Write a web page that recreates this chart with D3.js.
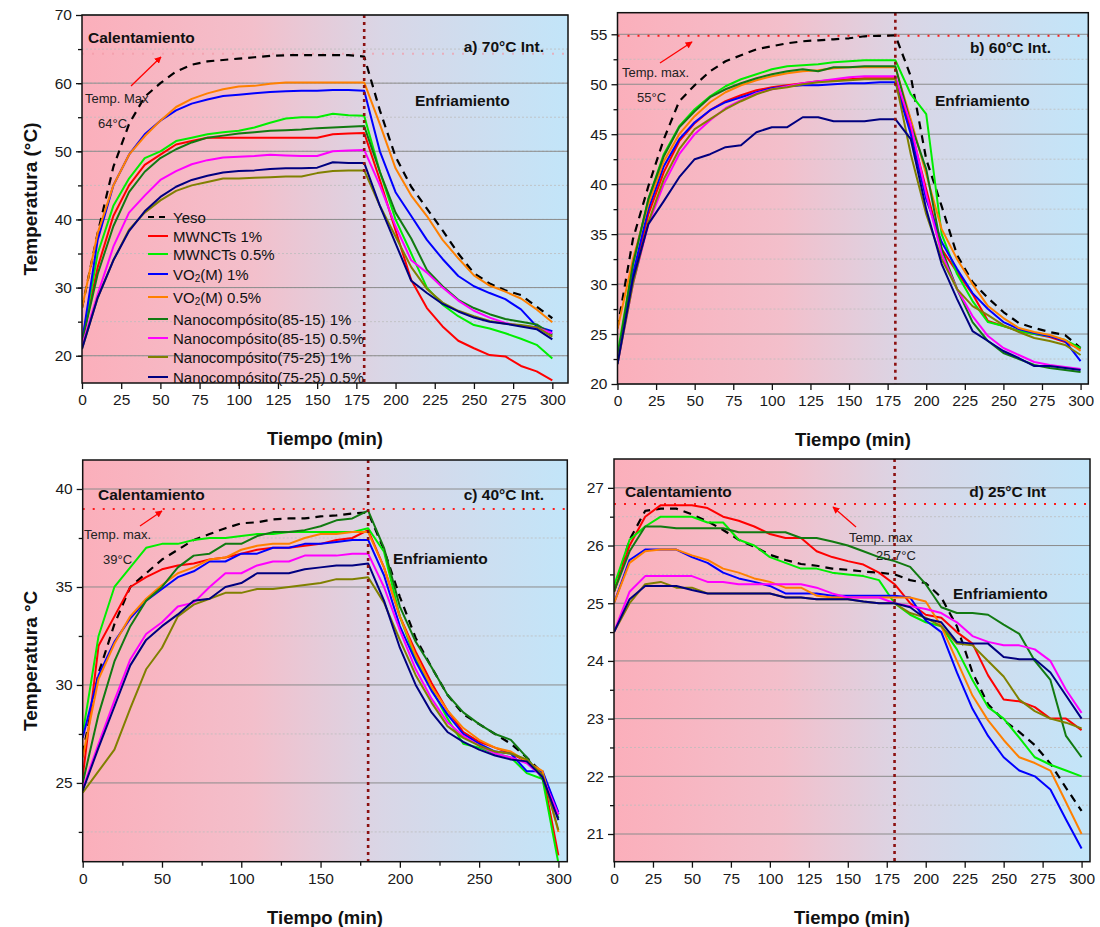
<!DOCTYPE html>
<html>
<head>
<meta charset="utf-8">
<script src="https://cdn.jsdelivr.net/npm/d3@7"></script>
<style>
  body { margin: 0; background: #fff; }
  svg { display: block; font-family: "Liberation Sans", Arial, Helvetica, sans-serif; }
</style>
</head>
<body>
<svg id="chart" width="1100" height="927"></svg>
<script>
// Sampling times (min)
const tiempo = [0,10,20,30,40,50,60,70,80,90,100,110,120,130,140,150,160,170,180,190,200,210,220,230,240,250,260,270,280,290,300];

const nombres = ["Yeso","MWNCTs 1%","MWNCTs 0.5%","VO2(M) 1%","VO2(M) 0.5%",
  "Nanocompósito(85-15) 1%","Nanocompósito(85-15) 0.5%","Nanocompósito(75-25) 1%","Nanocompósito(75-25) 0.5%"];
const colores = ["#000000","#ff0000","#00ee00","#0000ff","#ff8000","#117a11","#ff00ff","#808000","#000080"];

// a) 70 °C
const yeso70      = [27,38,47.7,54,58,60,61.7,62.7,63.2,63.4,63.6,63.8,64,64.1,64.1,64.1,64.1,64.1,63.9,56,49.2,44.8,41.6,38.4,35,32.1,30.6,29.6,28.9,27.2,25.5];
const mwncts1_70  = [22,33,40.5,45,48,49.5,51,51.5,52,52,52,52,52,52,52,52,52.5,52.6,52.7,45.8,38.4,31.1,27,24.3,22.2,21.1,20.1,19.9,18.5,17.7,16.4];
const mwncts05_70 = [22,35,42,46,49,50,51.5,52,52.5,52.8,53,53.5,54.2,54.8,55,55,55.5,55.3,55.2,47,40,35,30,27.5,25.8,24.5,24,23.3,22.5,21.6,19.6];
const vo1_70      = [22,37,45,49.5,52.5,54.5,56,57,57.6,58.1,58.3,58.5,58.7,58.8,58.9,58.9,59,59,58.9,50,44,40.5,37,34.2,31.7,30.2,29.2,28.3,26.8,24.3,23.6];
const vo05_70     = [27,38,45,49.5,52.2,54.5,56.5,57.7,58.5,59.1,59.5,59.6,59.9,60.1,60.1,60.1,60.1,60.1,60.1,54,47.5,43.5,40.5,37,34.3,31.8,30.3,29.4,28.4,26.8,24.9];
const n8515_1_70  = [22,32,39,44,47,49,50.3,51.3,52,52.3,52.6,52.8,53,53.1,53.2,53.4,53.5,53.6,53.7,47,41,37.2,32.6,30.2,28.2,27,26.1,25.4,25,24.6,23.1];
const n8515_05_70 = [21.5,29,36,41,43.5,45.8,47.1,48.1,48.7,49.1,49.2,49.3,49.5,49.4,49.3,49.3,50,50.1,50.2,45,39,34,32.2,30,28.1,26.6,25.6,24.8,24.4,24.1,23.3];
const n7525_1_70  = [21,28.5,34,38.5,41,42.8,44.2,45,45.5,46,46,46.1,46.2,46.3,46.3,46.8,47.1,47.2,47.2,42,37.5,33,29.8,27.8,26.6,25.8,25.1,24.7,24.5,24.2,22.8];
const n7525_05_70 = [21,28.5,34,38.3,41.2,43.3,44.8,45.8,46.4,46.9,47.1,47.2,47.4,47.5,47.5,47.6,48.4,48.3,48.3,42,36.5,31,29.2,27.6,26.5,25.6,25,24.7,24.3,23.9,22.4];

// b) 60 °C
const yeso60      = [25.6,34.5,39.8,44.5,48.3,49.9,51.3,52.3,52.9,53.5,53.8,54.1,54.3,54.4,54.5,54.6,54.8,54.85,54.9,50.8,42.5,37.8,32.9,30.2,28.6,27.2,26.1,25.6,25.2,24.9,23.6];
const mwncts1_60  = [22.5,30.5,37,41.2,44.3,46.1,47.4,48.3,48.9,49.4,49.7,49.9,50.1,50.3,50.4,50.5,50.6,50.6,50.6,45.5,39.5,33.5,31.2,29,26.3,25.8,25.3,25,24.7,24.2,23.5];
const mwncts05_60 = [23,32,38.5,43,45.8,47.5,48.8,49.8,50.5,51,51.5,51.8,51.9,52,52.2,52.3,52.4,52.4,52.4,49,47,35,31,28.3,26.2,25.8,25.3,25,24.8,24.4,23.6];
const vo1_60      = [22.5,31,37.5,41.8,44.5,46.2,47.4,48.2,48.7,49.2,49.6,49.8,49.9,49.9,50,50.1,50.1,50.2,50.2,45,38.5,34.2,31.5,29.1,27.5,26.2,25.5,25.1,24.8,24.3,22.3];
const vo05_60     = [25.5,32.5,38,42.3,45,46.8,48.2,49.2,49.9,50.4,50.8,51.1,51.3,51.4,51.6,51.7,51.7,51.7,51.7,46.5,41,35.5,32.5,30,27.8,26.6,25.6,25.2,24.9,24.4,23.3];
const n8515_1_60  = [22.5,32,38.5,42.8,45.7,47.3,48.7,49.5,50.1,50.6,51,51.3,51.5,51.3,51.7,51.7,51.8,51.8,51.8,46,41.5,33.5,29.5,26.2,24.3,23.1,22.5,21.9,21.6,21.4,21.2];
const n8515_05_60 = [22,30,36,40,43,45,46.4,47.6,48.4,49.1,49.5,49.8,50.1,50.3,50.5,50.7,50.8,50.8,50.8,46,39,33,29.5,26.8,24.8,23.6,22.9,22.2,21.9,21.7,21.5];
const n7525_1_60  = [22,30,36.2,40.5,43.5,45.5,46.5,47.5,48.3,49,49.5,49.7,50,50.2,50.3,50.4,50.5,50.5,50.5,43,37,32.5,29.5,27.8,26.9,25.9,25.2,24.6,24.3,23.9,22.9];
const n7525_05_60 = [22,30.5,36,38.3,40.7,42.5,43,43.7,43.9,45.2,45.7,45.7,46.7,46.7,46.3,46.3,46.3,46.5,46.5,44.5,37.5,32,28.5,25.3,24.3,23.3,22.6,21.8,21.8,21.6,21.4];

// c) 40 °C
const yeso40      = [26.5,30.6,33.1,35,35.7,36.4,36.9,37.4,37.7,38,38.25,38.3,38.45,38.5,38.5,38.6,38.65,38.75,38.8,36.9,34.5,32.4,30.9,29.5,28.5,28,27.5,27,26.3,25.5,23.4];
const mwncts1_40  = [25.3,32,33.5,35,35.5,35.9,36.1,36.2,36.4,36.5,36.7,36.9,37,37,37.1,37.2,37.4,37.5,37.9,36,33.5,31.7,30.1,28.7,27.6,27.1,26.8,26.5,26.1,25.5,21.3];
const mwncts05_40 = [27.5,32.5,35,36,37,37.2,37.2,37.4,37.5,37.5,37.6,37.7,37.7,37.8,37.8,37.8,37.8,37.8,38,36.8,33.5,31.3,29.8,28.3,27,26.8,26.5,26.3,25.5,25.2,20.9];
const vo1_40      = [27.3,30.5,32.2,33.4,34.3,34.9,35.5,35.8,36.3,36.3,36.7,36.7,37,37,37.2,37.2,37.3,37.4,37.4,35.6,33,31.2,29.7,28.5,27.5,27,26.6,26.5,25.6,25.6,23.5];
const vo05_40     = [26.3,30.3,32.1,33.5,34.4,35.1,35.7,36,36.4,36.5,36.9,37.1,37.2,37.2,37.5,37.7,37.7,37.8,37.8,36,33.5,31.5,29.9,28.7,27.8,27.2,26.8,26.6,26.1,25.6,22.5];
const n8515_1_40  = [25,28.5,31.2,33,34.3,35,36,36.6,36.7,37.2,37.2,37.6,37.8,37.8,37.9,38.1,38.4,38.5,38.9,37,34,32.2,30.9,29.5,28.6,28,27.5,27.2,26.3,25.2,23.2];
const n8515_05_40 = [24.7,27,29.2,31.3,32.6,33.2,34,34.2,35,35.7,35.7,36.1,36.3,36.3,36.6,36.6,36.6,36.7,36.7,35,32.8,30.8,29.3,28.1,27.4,26.9,26.5,26.3,26,25.3,23.4];
const n7525_1_40  = [24.5,25.6,26.7,28.8,30.8,31.9,33.5,34.1,34.4,34.7,34.7,34.9,34.9,35,35.1,35.2,35.4,35.4,35.5,34.2,32.3,30.5,29.1,27.9,27.3,26.9,26.6,26.5,26.2,25.4,22.6];
const n7525_05_40 = [24.6,26.8,28.9,31,32.3,33,33.6,34.3,34.4,35,35.2,35.7,35.7,35.7,35.9,36,36.1,36.1,36.2,34.3,31.9,30,28.6,27.6,27.1,26.7,26.4,26.2,26.1,25.3,23.1];

// d) 25 °C
const yeso25      = [25.2,26.1,26.6,26.64,26.64,26.54,26.42,26.27,26.1,25.98,25.84,25.75,25.68,25.65,25.6,25.58,25.55,25.53,25.5,25.4,25.35,25.1,24.6,23.8,23.25,22.97,22.77,22.54,22.22,21.8,21.4];
const mwncts1_25  = [25.2,26,26.5,26.7,26.7,26.7,26.65,26.5,26.43,26.33,26.2,26.13,26.13,25.9,25.8,25.73,25.67,25.53,25.33,25,24.8,24.75,24.5,24.3,23.75,23.33,23.3,23.2,23,23,22.8];
const mwncts05_25 = [25.3,26.1,26.33,26.5,26.5,26.5,26.4,26.4,26.1,26,25.8,25.7,25.6,25.6,25.53,25.5,25.47,25.4,25,24.8,24.67,24.6,24.2,23.67,23.2,23,22.67,22.33,22.2,22.1,22];
const vo1_25      = [25,25.75,25.93,25.93,25.93,25.8,25.7,25.53,25.43,25.37,25.3,25.17,25.17,25.17,25.13,25.13,25.13,25.13,25.13,25.1,24.7,24.5,23.8,23.17,22.7,22.33,22.1,22,21.77,21.25,20.75];
const vo05_25     = [25,25.7,25.9,25.93,25.93,25.83,25.75,25.6,25.53,25.43,25.37,25.27,25.27,25.13,25.1,25.1,25.1,25.1,25.1,25.1,25.03,24.6,24,23.4,22.97,22.63,22.33,22.23,22.1,21.55,21];
const n8515_1_25  = [25.2,25.9,26.33,26.33,26.3,26.3,26.3,26.3,26.23,26.23,26.23,26.23,26.13,26.13,26.07,26,25.9,25.8,25.73,25.63,25.33,24.93,24.83,24.83,24.8,24.63,24.47,24,23.67,22.7,22.33];
const n8515_05_25 = [24.5,25.2,25.47,25.47,25.47,25.47,25.37,25.37,25.33,25.33,25.33,25.33,25.33,25.27,25.17,25.1,25.1,25.1,25,24.95,24.9,24.83,24.67,24.43,24.33,24.27,24.27,24.2,24,23.5,23.1];
const n7525_1_25  = [24.5,25,25.33,25.37,25.27,25.27,25.17,25.17,25.17,25.17,25.17,25.1,25.1,25.07,25.07,25.07,25.03,25,25,24.83,24.75,24.6,24.3,24.27,24,23.73,23.33,23.13,23,22.93,22.83];
const n7525_05_25 = [24.5,25.07,25.3,25.3,25.3,25.23,25.17,25.17,25.17,25.17,25.17,25.1,25.1,25.07,25.07,25.07,25.03,25,25,24.93,24.73,24.67,24.33,24.3,24.3,24.07,24.03,24.03,23.8,23.4,23];

const svg = d3.select("#chart");
const defs = svg.append("defs");

const grad = defs.append("linearGradient").attr("id", "fondo")
  .attr("x1", "0%").attr("x2", "100%").attr("y1", "0%").attr("y2", "0%");
grad.append("stop").attr("offset", "0%").attr("stop-color", "#fbafbb");
grad.append("stop").attr("offset", "35%").attr("stop-color", "#f3bfcb");
grad.append("stop").attr("offset", "62%").attr("stop-color", "#d9d6e6");
grad.append("stop").attr("offset", "100%").attr("stop-color", "#c2e5f9");

defs.append("marker").attr("id", "flecha").attr("viewBox", "0 0 10 10")
  .attr("refX", 9).attr("refY", 5).attr("markerWidth", 7).attr("markerHeight", 7)
  .attr("markerUnits", "userSpaceOnUse").attr("orient", "auto")
  .append("path").attr("d", "M0,0 L10,5 L0,10 z").attr("fill", "#ff0000");

const paneles = [
  { key: "a", left: 82, right: 568, top: 15, bottom: 383, xMax: 310, yDom: [16, 70],
    xTicks: d3.range(0, 301, 25), xMinor: [], yTicks: [20,30,40,50,60,70], yMinor: [20,25,30,35,40,45,50,55,60,65],
    datos: [yeso70, mwncts1_70, mwncts05_70, vo1_70, vo05_70, n8515_1_70, n8515_05_70, n7525_1_70, n7525_05_70],
    tmax: 64.3, tmaxColor: "#f29aa6", tmaxOpacity: 0.7,
    titulo: "a) 70°C Int.", tituloXY: [544, 46],
    cal: [88, 37], enf: [415, 100],
    tempTxt: ["Temp. Max", 85, 98], tempVal: ["64°C", 98, 123], arrow: [131, 86, 161, 57],
    yTitle: "Temperatura (°C)", legend: true },
  { key: "b", left: 617.5, right: 1088.3, top: 12.7, bottom: 384, xMax: 305, yDom: [20, 57.16],
    xTicks: d3.range(0, 301, 25), xMinor: [], yTicks: [20,25,30,35,40,45,50,55], yMinor: [22.5,27.5,32.5,37.5,42.5,47.5,52.5],
    datos: [yeso60, mwncts1_60, mwncts05_60, vo1_60, vo05_60, n8515_1_60, n8515_05_60, n7525_1_60, n7525_05_60],
    tmax: 54.85, tmaxColor: "#ff1a1a", tmaxOpacity: 1,
    titulo: "b) 60°C Int.", tituloXY: [1051, 47],
    cal: null, enf: [935, 100],
    tempTxt: ["Temp. max.", 622, 72], tempVal: ["55°C", 637, 97], arrow: [660, 63, 692, 42],
    yTitle: null, legend: false },
  { key: "c", left: 82.7, right: 567.3, top: 460, bottom: 861.7, xMax: 305.6, yDom: [20.98, 41.48],
    xTicks: [0,50,100,150,200,250,300], xMinor: [25,75,125,175,225,275], yTicks: [25,30,35,40], yMinor: [22.5,27.5,32.5,37.5],
    datos: [yeso40, mwncts1_40, mwncts05_40, vo1_40, vo05_40, n8515_1_40, n8515_05_40, n7525_1_40, n7525_05_40],
    tmax: 38.98, tmaxColor: "#ff1a1a", tmaxOpacity: 1,
    titulo: "c) 40°C Int.", tituloXY: [544, 494],
    cal: [98, 494], enf: [393, 558],
    tempTxt: ["Temp. max.", 84, 534], tempVal: ["39°C", 103, 559], arrow: [140, 526, 162, 511],
    yTitle: "Temperatura °C", legend: false },
  { key: "d", left: 614, right: 1090, top: 459, bottom: 861.7, xMax: 305.4, yDom: [20.52, 27.5],
    xTicks: d3.range(0, 301, 25), xMinor: [], yTicks: [21,22,23,24,25,26,27], yMinor: [20.5,21.5,22.5,23.5,24.5,25.5,26.5],
    datos: [yeso25, mwncts1_25, mwncts05_25, vo1_25, vo05_25, n8515_1_25, n8515_05_25, n7525_1_25, n7525_05_25],
    tmax: 26.72, tmaxColor: "#ff1a1a", tmaxOpacity: 1,
    titulo: "d) 25°C Int", tituloXY: [1046, 491],
    cal: [625, 491], enf: [953, 593],
    tempTxt: ["Temp. max", 849, 537], tempVal: ["25.7°C", 876, 555], arrow: [856, 527, 833, 507],
    yTitle: null, legend: false }
];

const fmt = d3.format("d");

paneles.forEach(p => {
  const x = d3.scaleLinear().domain([0, p.xMax]).range([p.left, p.right]);
  const y = d3.scaleLinear().domain(p.yDom).range([p.bottom, p.top]);
  const g = svg.append("g").attr("class", "panel-" + p.key);
  const W = p.right - p.left, H = p.bottom - p.top;

  defs.append("clipPath").attr("id", "clip-" + p.key)
    .append("rect").attr("x", p.left).attr("y", p.top).attr("width", W).attr("height", H);

  g.append("rect").attr("x", p.left).attr("y", p.top).attr("width", W).attr("height", H)
    .attr("fill", "url(#fondo)");

  // grid
  g.selectAll(".gmin").data(p.yMinor.filter(v => v > p.yDom[0] && v < p.yDom[1])).join("line")
    .attr("x1", p.left).attr("x2", p.right).attr("y1", d => y(d)).attr("y2", d => y(d))
    .attr("stroke", "#bcbcbc").attr("stroke-width", 0.8).attr("stroke-dasharray", "2,2");
  g.selectAll(".gmaj").data(p.yTicks).join("line")
    .attr("x1", p.left).attr("x2", p.right).attr("y1", d => y(d)).attr("y2", d => y(d))
    .attr("stroke", "#8c8c8c").attr("stroke-width", 1);

  // maximum temperature reference
  g.append("line").attr("x1", p.left).attr("x2", p.right)
    .attr("y1", y(p.tmax)).attr("y2", y(p.tmax))
    .attr("stroke", p.tmaxColor).attr("stroke-opacity", p.tmaxOpacity)
    .attr("stroke-width", 2).attr("stroke-dasharray", "2,8");

  // series
  const line = d3.line().x((d, i) => x(tiempo[i])).y(d => y(d));
  const cg = g.append("g").attr("clip-path", "url(#clip-" + p.key + ")");
  p.datos.forEach((serie, k) => {
    cg.append("path").datum(serie).attr("d", line)
      .attr("fill", "none").attr("stroke", colores[k])
      .attr("stroke-width", k === 0 ? 2.2 : 2)
      .attr("stroke-linejoin", "round")
      .attr("stroke-dasharray", k === 0 ? "8,6" : null);
  });

  // heating / cooling boundary
  g.append("line").attr("x1", x(180)).attr("x2", x(180))
    .attr("y1", p.top).attr("y2", p.bottom)
    .attr("stroke", "#8b1010").attr("stroke-width", 2.6).attr("stroke-dasharray", "3,4");

  // frame
  g.append("rect").attr("x", p.left).attr("y", p.top).attr("width", W).attr("height", H)
    .attr("fill", "none").attr("stroke", "#111").attr("stroke-width", 1.5);

  // axes
  const ax = g.append("g").attr("transform", `translate(0,${p.bottom})`)
    .call(d3.axisBottom(x).tickValues(p.xTicks).tickFormat(fmt).tickSize(6).tickPadding(5).tickSizeOuter(0));
  if (p.xMinor.length) {
    g.append("g").attr("transform", `translate(0,${p.bottom})`)
      .call(d3.axisBottom(x).tickValues(p.xMinor).tickSize(4).tickFormat("").tickSizeOuter(0))
      .select(".domain").remove();
  }
  const ay = g.append("g").attr("transform", `translate(${p.left},0)`)
    .call(d3.axisLeft(y).tickValues(p.yTicks).tickFormat(fmt).tickSize(6).tickPadding(4).tickSizeOuter(0));
  g.append("g").attr("transform", `translate(${p.left},0)`)
    .call(d3.axisLeft(y).tickValues(p.yMinor.filter(v => v > p.yDom[0])).tickSize(4).tickFormat("").tickSizeOuter(0))
    .select(".domain").remove();
  [ax, ay].forEach(a => {
    a.select(".domain").remove();
    a.selectAll(".tick text").attr("font-size", 15.5).attr("fill", "#1a1a1a")
      .attr("font-family", "'Liberation Sans', Arial, sans-serif");
  });
  g.selectAll(".tick line").attr("stroke", "#111").attr("stroke-width", 1.3);

  // axis titles
  g.append("text").attr("x", (p.left + p.right) / 2).attr("y", p.bottom + 62)
    .attr("text-anchor", "middle").attr("font-weight", "bold").attr("font-size", 18.5)
    .attr("fill", "#111").text("Tiempo (min)");
  if (p.yTitle) {
    g.append("text").attr("transform", `translate(30,${(p.top + p.bottom) / 2}) rotate(-90)`)
      .attr("text-anchor", "middle").attr("dominant-baseline", "central")
      .attr("font-weight", "bold").attr("font-size", 19).attr("fill", "#111").text(p.yTitle);
  }

  // annotations
  const bold = (txt, xx, yy, anchor) => g.append("text").attr("x", xx).attr("y", yy)
    .attr("text-anchor", anchor).attr("dominant-baseline", "central")
    .attr("font-weight", "bold").attr("font-size", 15.5).attr("fill", "#111").text(txt);
  bold(p.titulo, p.tituloXY[0], p.tituloXY[1], "end");
  if (p.cal) bold("Calentamiento", p.cal[0], p.cal[1], "start");
  bold("Enfriamiento", p.enf[0], p.enf[1], "start");
  g.append("text").attr("x", p.tempTxt[1]).attr("y", p.tempTxt[2]).attr("dominant-baseline", "central")
    .attr("font-size", 13).attr("fill", "#222").text(p.tempTxt[0]);
  g.append("text").attr("x", p.tempVal[1]).attr("y", p.tempVal[2]).attr("dominant-baseline", "central")
    .attr("font-size", 13).attr("fill", "#222").text(p.tempVal[0]);
  g.append("line").attr("x1", p.arrow[0]).attr("y1", p.arrow[1]).attr("x2", p.arrow[2]).attr("y2", p.arrow[3])
    .attr("stroke", "#ff0000").attr("stroke-width", 1.3).attr("marker-end", "url(#flecha)");

  // legend
  if (p.legend) {
    const filas = [217, 236, 254, 274, 297, 319, 338, 357, 377];
    const lg = g.append("g");
    nombres.forEach((n, k) => {
      lg.append("line").attr("x1", 148).attr("x2", 168).attr("y1", filas[k]).attr("y2", filas[k])
        .attr("stroke", colores[k]).attr("stroke-width", 2)
        .attr("stroke-dasharray", k === 0 ? "6,5" : null);
      const t = lg.append("text").attr("x", 173).attr("y", filas[k]).attr("dominant-baseline", "central")
        .attr("font-size", 15).attr("fill", "#111");
      if (n.startsWith("VO2")) {
        t.append("tspan").text("VO");
        t.append("tspan").attr("font-size", 10).attr("dy", 4).text("2");
        t.append("tspan").attr("dy", -4).text(n.slice(3));
      } else {
        t.text(n);
      }
    });
  }
});
</script>
</body>
</html>
